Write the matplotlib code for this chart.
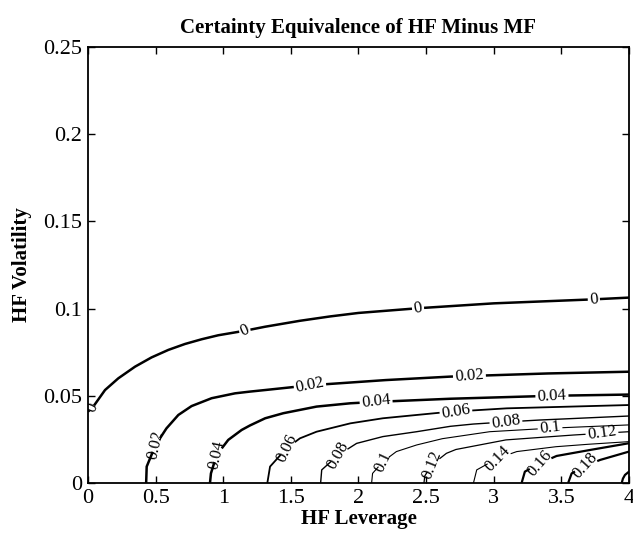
import matplotlib
matplotlib.use('Agg')
import matplotlib.pyplot as plt
import numpy as np
from matplotlib.contour import ContourSet

plt.rcParams['font.family'] = ['Liberation Serif', 'DejaVu Serif']

# 等值线数据：杠杆 x，波动率 y
levels = [0, 0.02, 0.04, 0.06, 0.08, 0.1, 0.12, 0.14, 0.16, 0.18, 0.2]

lev_x = [
    [0, 0.039, 0.126, 0.224, 0.348, 0.47, 0.594, 0.717, 0.84, 0.963, 1.16, 1.31,
     1.567, 1.79, 2.0, 2.44, 3.0, 3.74, 4.0],
    [0.43, 0.434, 0.50, 0.58, 0.668, 0.766, 0.914, 1.087, 1.198, 1.31, 1.64, 1.79,
     2.2, 2.68, 3.4, 4.0],
    [0.902, 0.909, 0.951, 1.037, 1.136, 1.198, 1.31, 1.444, 1.69, 1.94, 2.13, 2.68,
     3.43, 4.0],
    [1.326, 1.346, 1.468, 1.567, 1.69, 1.94, 2.18, 2.43, 2.63, 2.72, 3.096, 4.0],
    [1.72, 1.728, 1.85, 1.986, 2.18, 2.43, 2.68, 2.85, 3.09, 3.34, 4.0],
    [2.097, 2.104, 2.18, 2.28, 2.43, 2.62, 2.97, 3.416, 4.0],
    [2.484, 2.49, 2.54, 2.65, 2.72, 3.09, 3.59, 3.80, 4.0],
    [2.85, 2.874, 3.03, 3.17, 3.46, 3.7, 4.0],
    [3.206, 3.23, 3.34, 3.465, 3.71, 4.0],
    [3.55, 3.576, 3.675, 3.786, 4.0],
    [3.946, 3.955, 3.97, 4.0],
]
lev_y = [
    [0.0409, 0.0438, 0.0533, 0.060, 0.0667, 0.072, 0.0763, 0.0797, 0.0824, 0.0847,
     0.0873, 0.0896, 0.0930, 0.0955, 0.0975, 0.1002, 0.103, 0.1053, 0.1063],
    [0.0, 0.0094, 0.0218, 0.0313, 0.039, 0.0441, 0.0486, 0.0514, 0.0524, 0.0533,
     0.0560, 0.0568, 0.059, 0.061, 0.0628, 0.0638],
    [0.0, 0.0055, 0.016, 0.0247, 0.0304, 0.0330, 0.0371, 0.040, 0.0438, 0.0457,
     0.0465, 0.0483, 0.0500, 0.0507],
    [0.0, 0.0094, 0.0199, 0.0256, 0.0294, 0.0342, 0.0371, 0.039, 0.0405, 0.041,
     0.0428, 0.0447],
    [0.0, 0.0075, 0.016, 0.0227, 0.0266, 0.0294, 0.0325, 0.0338, 0.035, 0.0361, 0.0384],
    [0.0, 0.0055, 0.0122, 0.018, 0.0218, 0.0254, 0.0294, 0.0314, 0.0333],
    [0.0, 0.004, 0.0103, 0.017, 0.0192, 0.0247, 0.0275, 0.0285, 0.0294],
    [0.0, 0.0075, 0.0142, 0.018, 0.0208, 0.0222, 0.0237],
    [0.0, 0.0065, 0.0113, 0.0155, 0.0189, 0.0228],
    [0.0, 0.0055, 0.0098, 0.0132, 0.018],
    [0.0, 0.0025, 0.0046, 0.0065],
]

x_ticks = [0, 0.5, 1, 1.5, 2, 2.5, 3, 3.5, 4]
y_ticks = [0, 0.05, 0.1, 0.15, 0.2, 0.25]

line_w = [1.8, 1.8, 1.8, 1.3, 1.0, 0.8, 0.9, 0.8, 1.6, 1.6, 1.6]

# 标签位置
label_pos = [
    (0.03, 0.043), (1.16, 0.0873), (2.44, 0.1002), (3.74, 0.1053),
    (0.50, 0.0218), (1.64, 0.0560), (2.82, 0.0614),
    (0.951, 0.016), (2.13, 0.0465), (3.43, 0.0500),
    (1.468, 0.0199), (2.72, 0.041),
    (1.85, 0.016), (3.09, 0.035),
    (2.18, 0.0122), (3.416, 0.0314),
    (2.54, 0.0103), (3.80, 0.0285),
    (3.03, 0.0142),
    (3.34, 0.0113),
    (3.675, 0.0098),
]

fig = plt.figure(figsize=(6.33, 5.37), dpi=100)
ax = fig.add_axes([0.139, 0.1006, 0.8547, 0.8119])

allsegs = [[np.column_stack([xs, ys])] for xs, ys in zip(lev_x, lev_y)]
cs = ContourSet(ax, levels, allsegs, colors='k', linewidths=line_w)
ax.clabel(cs, fmt='%g', fontsize=12, manual=label_pos, inline=True, inline_spacing=2)

ax.set_xlim(0, 4)
ax.set_ylim(0, 0.25)
ax.set_xticks(x_ticks)
ax.set_yticks(y_ticks)
ax.set_xticklabels(['%g' % v for v in x_ticks])
ax.set_yticklabels(['%g' % v for v in y_ticks])
ax.tick_params(direction='in', length=5, width=1, top=True, right=True, labelsize=16, pad=4)
for s in ax.spines.values():
    s.set_linewidth(1.3)

ax.set_title('Certainty Equivalence of HF Minus MF', fontsize=15, fontweight='bold', pad=10)
ax.set_xlabel('HF Leverage', fontsize=15, fontweight='bold', labelpad=1)
ax.set_ylabel('HF Volatility', fontsize=15, fontweight='bold', labelpad=8)

fig.savefig('out.png', dpi=100)
